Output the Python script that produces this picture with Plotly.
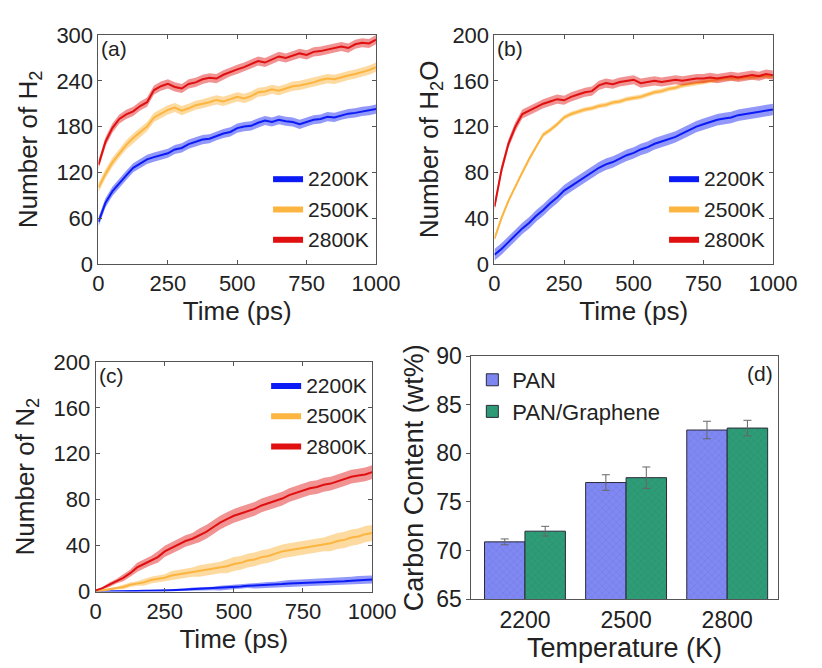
import plotly.graph_objects as go
import numpy as np

# ---------------- data ----------------
time_ps = list(range(0, 1001, 25))
temps = ["2200K", "2500K", "2800K"]

H2_2200 = [55, 80, 95, 106, 116, 126, 132, 137, 140, 143, 145, 150, 152, 157, 160, 163, 164, 168, 171, 173,
           178, 180, 181, 185, 188, 186, 189, 187, 186, 183, 186, 189, 190, 193, 192, 195, 197, 198, 200, 201, 203]
H2_2500 = [100, 118, 133, 145, 156, 165, 172, 180, 192, 197, 202, 205, 201, 204, 208, 210, 212, 215, 213, 216,
           219, 217, 220, 225, 226, 229, 227, 230, 233, 234, 236, 238, 241, 243, 242, 245, 247, 249, 251, 254, 258]
H2_2800 = [130, 160, 178, 190, 196, 200, 207, 212, 228, 233, 236, 232, 230, 236, 238, 242, 244, 243, 248, 252,
           255, 258, 262, 266, 264, 268, 272, 270, 273, 276, 274, 278, 279, 281, 283, 285, 283, 288, 290, 289, 294]
H2_band = [6, 6, 6]

H2O_2200 = [8, 13, 19, 25, 31, 36, 42, 47, 53, 58, 64, 68, 72, 76, 80, 84, 87, 89, 92, 95,
            97, 100, 102, 105, 107, 109, 111, 114, 117, 120, 122, 124, 126, 127, 128, 130, 131, 132, 133, 134, 135]
H2O_2500 = [22, 40, 55, 68, 80, 92, 103, 113, 117, 122, 128, 131, 133, 135, 136, 138, 139, 141, 142, 144,
            145, 146, 148, 150, 151, 153, 154, 156, 157, 158, 159, 160, 161, 162, 162, 162, 163, 163, 164, 164, 164]
H2O_2800 = [50, 82, 105, 120, 131, 134, 137, 140, 142, 144, 143, 146, 148, 150, 151, 156, 158, 157, 159, 160,
            161, 158, 159, 160, 159, 160, 161, 160, 161, 162, 162, 163, 162, 163, 164, 163, 164, 165, 164, 166, 165]
H2O_band = [5, 2, 4]

N2_2200 = [0, 0, 0, 0, 0, 0.3, 0.5, 0.7, 1, 1, 1, 1.2, 1.5, 1.7, 2, 2.2, 2.5, 2.7, 3, 3.5,
           4, 4.5, 5, 5.2, 5.5, 5.8, 6, 6.5, 7, 7.2, 7.5, 7.7, 8, 8.2, 8.5, 8.7, 9, 9.5, 10, 10.2, 10.5]
N2_2500 = [0, 1, 2, 3, 4, 6, 7, 8, 10, 11, 12, 14, 15, 16, 17, 18, 19, 20, 21, 22,
           24, 25, 27, 28, 30, 31, 33, 35, 36, 37, 38, 39, 40, 41, 42, 44, 45, 47, 48, 50, 51]
N2_2800 = [1, 3, 6, 9, 12, 16, 21, 24, 27, 30, 35, 38, 41, 44, 46, 49, 52, 56, 60, 63,
           66, 68, 70, 72, 75, 77, 79, 81, 84, 86, 88, 90, 91, 93, 94, 96, 98, 100, 101, 102, 104]
N2_band_2200 = [0, 0, 0, 0, 0, 0.5, 0.5, 0.5, 1, 1, 1, 1, 1, 1, 1.5, 1.5, 1.5, 1.5, 2, 2,
                2, 2, 2, 2.5, 2.5, 2.5, 2.5, 3, 3, 3, 3, 3, 3, 3, 3, 3.5, 3.5, 3.5, 3.5, 3.5, 3.5]
N2_band_2500 = [0, 1, 1, 1, 2, 2, 2, 3, 3, 3, 3, 4, 4, 4, 4, 5, 5, 5, 5, 6,
                6, 6, 6, 6, 6, 6, 6, 6, 6, 6, 6, 6, 6, 6, 7, 7, 7, 7, 7, 7, 7]
N2_band_2800 = [0, 1, 2, 2, 3, 3, 4, 4, 4, 5, 5, 5, 5, 5, 5, 6, 6, 6, 6, 6,
                6, 6, 6, 6, 6, 6, 6, 6, 6, 6, 6, 6, 6, 6, 6, 6, 6, 6, 6, 6, 6]

bar_temps = ["2200", "2500", "2800"]
carbon_PAN = [70.9, 77.0, 82.4]
carbon_PAN_err = [0.3, 0.8, 0.9]
carbon_PANG = [72.0, 77.5, 82.6]
carbon_PANG_err = [0.5, 1.1, 0.8]

# ---------------- styles ----------------
line_colors = ["#0b1bf5", "#fbb540", "#e01010"]
band_colors = ["rgba(11,27,245,0.45)", "rgba(251,181,64,0.5)", "rgba(224,16,16,0.45)"]
FONT = "Liberation Sans, Arial, sans-serif"
TXT = "#222"

fig = go.Figure()

t = np.array(time_ps, dtype=float)


def add_panel(series, bands, xa, ya, legend):
    for i, (ys, bw) in enumerate(zip(series, bands)):
        ys = np.array(ys, dtype=float)
        bw = np.array(bw, dtype=float) if np.ndim(bw) else np.full_like(ys, bw)
        fig.add_trace(go.Scatter(
            x=np.concatenate([t, t[::-1]]),
            y=np.concatenate([ys + bw, (ys - bw)[::-1]]),
            fill="toself", fillcolor=band_colors[i], line=dict(width=0),
            mode="lines", hoverinfo="skip", showlegend=False, xaxis=xa, yaxis=ya))
        fig.add_trace(go.Scatter(
            x=t, y=ys, mode="lines", line=dict(color=line_colors[i], width=2),
            showlegend=False, xaxis=xa, yaxis=ya))
    for i, name in enumerate(temps):
        fig.add_trace(go.Scatter(
            x=[None], y=[None], name=name, mode="lines", fill="toself",
            fillcolor=line_colors[i], line=dict(width=0, color=line_colors[i]),
            xaxis=xa, yaxis=ya, legend=legend, showlegend=True))


add_panel([H2_2200, H2_2500, H2_2800], H2_band, "x", "y", "legend")
add_panel([H2O_2200, H2O_2500, H2O_2800], H2O_band, "x2", "y2", "legend2")
add_panel([N2_2200, N2_2500, N2_2800], [N2_band_2200, N2_band_2500, N2_band_2800], "x3", "y3", "legend3")

fig.add_trace(go.Bar(
    x=bar_temps, y=carbon_PAN, name="PAN", xaxis="x4", yaxis="y4", legend="legend4",
    marker=dict(color="#8088f2", line=dict(color="#2a2a3a", width=1),
                pattern=dict(shape="x", fgcolor="#6a72e0", size=5, solidity=0.25)),
    error_y=dict(type="data", array=carbon_PAN_err, color="#666", thickness=1, width=4)))
fig.add_trace(go.Bar(
    x=bar_temps, y=carbon_PANG, name="PAN/Graphene", xaxis="x4", yaxis="y4", legend="legend4",
    marker=dict(color="#2f9c78", line=dict(color="#2a2a3a", width=1),
                pattern=dict(shape="x", fgcolor="#258565", size=5, solidity=0.25)),
    error_y=dict(type="data", array=carbon_PANG_err, color="#666", thickness=1, width=4)))

W, H = 822, 668


def dx(a, b):
    return [a / W, b / W]


def dy(top, bottom):
    return [1 - bottom / H, 1 - top / H]


ax_common = dict(showline=True, linecolor="#555", linewidth=1, mirror="ticks", ticks="inside",
                 ticklen=4, tickcolor="#555", showgrid=False, zeroline=False,
                 tickfont=dict(family=FONT, size=22, color=TXT),
                 title_font=dict(family=FONT, size=26, color=TXT))

x_time = dict(ax_common, range=[0, 1000], tickvals=[0, 250, 500, 750, 1000],
              title_text="Time (ps)", title_standoff=2)

leg_common = dict(bgcolor="rgba(0,0,0,0)", itemwidth=30, tracegroupgap=0)

fig.update_layout(
    width=W, height=H, margin=dict(l=0, r=0, t=0, b=0),
    paper_bgcolor="white", plot_bgcolor="white",
    font=dict(family=FONT, color=TXT),
    xaxis=dict(x_time, domain=dx(96, 384), anchor="y"),
    yaxis=dict(ax_common, domain=dy(23, 261), anchor="x", range=[0, 300],
               tickvals=[0, 60, 120, 180, 240, 300], title_text="Number of H<sub>2</sub>", title_standoff=11),
    xaxis2=dict(x_time, domain=dx(507, 796), anchor="y2"),
    yaxis2=dict(ax_common, domain=dy(23, 261), anchor="x2", range=[0, 200],
                tickvals=[0, 40, 80, 120, 160, 200], title_text="Number of H<sub>2</sub>O", title_standoff=6),
    xaxis3=dict(x_time, domain=dx(93, 380), anchor="y3"),
    yaxis3=dict(ax_common, domain=dy(363, 602), anchor="x3", range=[0, 200],
                tickvals=[0, 40, 80, 120, 160, 200], title_text="Number of N<sub>2</sub>", title_standoff=11),
    xaxis4=dict(showline=True, linecolor="#555", linewidth=1, mirror=True, ticks="",
                showgrid=False, zeroline=False, domain=dx(483, 801), anchor="y4",
                range=[-0.53, 2.5], tickfont=dict(family=FONT, size=23, color=TXT),
                title_text="Temperature (K)", title_font=dict(family=FONT, size=27, color=TXT),
                title_standoff=0),
    yaxis4=dict(showline=True, linecolor="#555", linewidth=1, mirror=True, ticks="outside", ticklen=4,
                tickcolor="#555", showgrid=False, zeroline=False, domain=dy(357, 610), anchor="x4",
                range=[65, 90], tickvals=[65, 70, 75, 80, 85, 90],
                tickfont=dict(family=FONT, size=23, color=TXT),
                title_text="Carbon Content (wt%)", title_font=dict(family=FONT, size=27, color=TXT),
                title_standoff=4),
    barmode="group", bargap=0.2, bargroupgap=0,
    legend=dict(leg_common, x=382 / W, y=1 - 256 / H, xanchor="right", yanchor="bottom",
                font=dict(family=FONT, size=21, color=TXT)),
    legend2=dict(leg_common, x=793 / W, y=1 - 256 / H, xanchor="right", yanchor="bottom",
                 font=dict(family=FONT, size=21, color=TXT)),
    legend3=dict(leg_common, x=380 / W, y=1 - 366 / H, xanchor="right", yanchor="top",
                 font=dict(family=FONT, size=21, color=TXT)),
    legend4=dict(leg_common, x=484 / W, y=1 - 360 / H, xanchor="left", yanchor="top",
                 font=dict(family=FONT, size=22, color=TXT)),
    annotations=[
        dict(text="(a)", x=97 / W, y=1 - 23 / H, xref="paper", yref="paper", xanchor="left", yanchor="top",
             showarrow=False, font=dict(family=FONT, size=21, color=TXT)),
        dict(text="(b)", x=508 / W, y=1 - 23 / H, xref="paper", yref="paper", xanchor="left", yanchor="top",
             showarrow=False, font=dict(family=FONT, size=21, color=TXT)),
        dict(text="(c)", x=94 / W, y=1 - 363 / H, xref="paper", yref="paper", xanchor="left", yanchor="top",
             showarrow=False, font=dict(family=FONT, size=21, color=TXT)),
        dict(text="(d)", x=798 / W, y=1 - 361 / H, xref="paper", yref="paper", xanchor="right", yanchor="top",
             showarrow=False, font=dict(family=FONT, size=21, color=TXT)),
    ],
)

fig.write_html("out.html")
